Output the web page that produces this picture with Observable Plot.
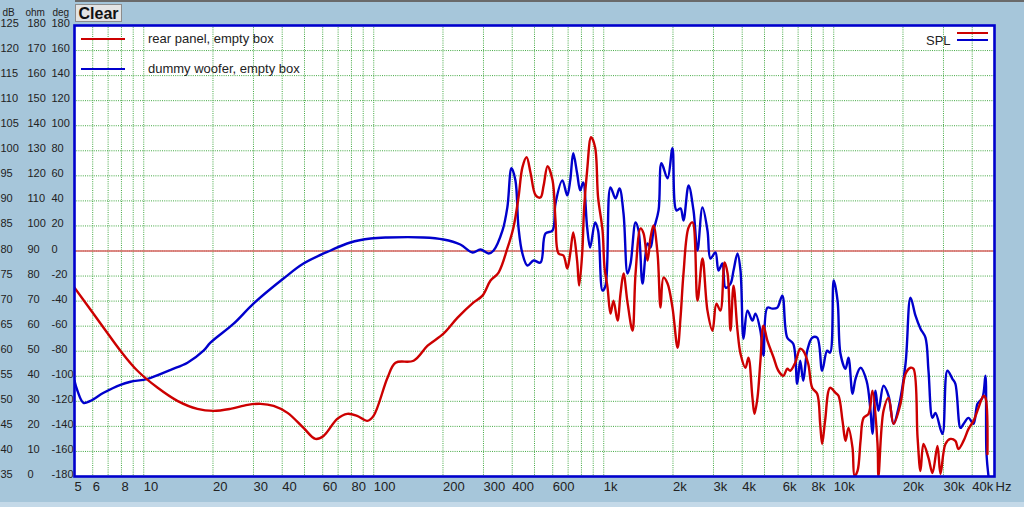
<!DOCTYPE html>
<html>
<head>
<meta charset="utf-8">
<script src="https://cdn.jsdelivr.net/npm/d3@7"></script>
<script src="https://cdn.jsdelivr.net/npm/@observablehq/plot@0.6"></script>
<style>
  body { margin: 0; background: #a6c6da; }
  #chart { position: relative; width: 1024px; height: 507px; overflow: hidden;
           font-family: "Liberation Sans", Arial, sans-serif; background: #a6c6da; }
  #chart svg { display: block; }
  .btn { position: absolute; left: 75px; top: 4px; width: 47px; height: 18px;
         background: #e4e4e4; border: 1px solid #8c8c8c; box-sizing: border-box;
         font: bold 16px "Liberation Sans", Arial, sans-serif; color: #111;
         line-height: 17px; text-align: center; }
  .topline { position: absolute; left: 75px; top: 0; width: 949px; height: 2px; background: #6a6a6a; }
  .bottomline { position: absolute; left: 0; bottom: 0; width: 1024px; height: 5px; background: #c4d9e8; }
  .sw { position: absolute; height: 2px; }
  .lg { position: absolute; font-size: 13px; color: #222; line-height: 14px; }
</style>
</head>
<body>
<div id="chart"></div>
<script>
// frequency response (Hz / dB)
const woofFreq = [5, 5.15, 5.47, 5.87, 6.69, 7.92, 8.76, 10.4, 13.1, 15.5, 18.2, 19.5, 24.6, 30, 40.5, 49.5, 64.9, 79.1, 97,
  114.8, 164.6, 201, 238, 269, 291, 316, 332, 363, 381, 397, 413, 426, 443, 466, 495, 531, 558, 599, 617, 661, 694, 715,
  737, 766, 790, 814, 847, 873, 917, 945, 988, 1018, 1070, 1125, 1171, 1219, 1269, 1308, 1375, 1417, 1475, 1550, 1598,
  1646, 1731, 1783, 1894, 1990, 2071, 2157, 2222, 2338, 2456, 2556, 2687, 2825, 2911, 3060, 3154, 3283, 3385, 3558,
  3667, 3816, 3932, 4052, 4217, 4432, 4567, 4800, 4946, 5147, 5409, 5685, 5975, 6280, 6666, 6937, 7150, 7370, 7670,
  8060, 8473, 8905, 9359, 9640, 10000, 10390, 10700, 11250, 11590, 12070, 12440, 13080, 13890, 14450, 14740, 15190,
  15650, 16460, 17310, 18200, 19130, 20520, 21570, 22670, 23830, 25050, 25820, 26870, 27690, 29680, 31200, 32800,
  33800, 35580, 36670, 38550, 40520, 42170, 44320, 45670, 46130, 47100];
const woofDb = [54.1, 52.1, 49.7, 50.1, 51.7, 53.3, 53.9, 54.5, 56.3, 57.7, 60.1, 61.7, 65.5, 69.5, 74.5, 77.5, 80.1, 81.7, 82.5,
  82.7, 82.7, 82.3, 81.3, 79.7, 80.3, 79.5, 80.1, 84.1, 88.7, 96.5, 94.1, 84.7, 79.5, 77.1, 78.1, 77.7, 83.5, 84.1, 89.5,
  94.1, 91.1, 94.1, 99.5, 95.5, 92.1, 93.7, 84.7, 80.7, 85.7, 84.1, 72.1, 73.1, 92.7, 90.5, 92.5, 87.5, 75.5, 77.5, 85.7,
  84.1, 73.5, 81.5, 80.7, 84.1, 88.1, 97.5, 94.5, 100.5, 88.1, 88.5, 86.1, 93.1, 88.1, 80.1, 88.7, 84.1, 78.5, 79.7,
  76.1, 77.5, 72.7, 73.5, 76.1, 79.5, 76.1, 62.5, 68.1, 66.1, 67.5, 64.1, 59.1, 68.7, 68.5, 68.7, 71.1, 62.7, 61.5,
  53.5, 58.1, 54.1, 60.1, 62.7, 62.7, 56.1, 60.1, 59.7, 74.1, 70.1, 59.5, 56.5, 58.7, 51.5, 54.5, 56.7, 54.1, 48.1,
  43.5, 52.1, 48.1, 53.1, 51.1, 45.5, 48.7, 57.5, 70.7, 67.1, 64.5, 62.7, 56.1, 46.7, 47.7, 43.5, 56.1, 54.5, 53.5,
  44.7, 45.5, 46.7, 45.5, 49.5, 50.7, 55.1, 39.7, 35];

const rearFreq = [5, 6.69, 7.92, 9.39, 11.5, 14, 17.1, 20.1, 23.8, 28.3, 32.2, 36.7, 42.2, 49.5, 55.8, 60.5, 69.4, 76.7, 84.7,
  93.6, 99.8, 114.8, 124.4, 149, 171.5, 201, 231.5, 271, 297, 322, 349, 381, 405, 426, 443, 462, 481, 506, 531, 548,
  570, 599, 617, 636, 668, 694, 715, 737, 766, 782, 806, 822, 847, 881, 917, 945, 988, 1008, 1039, 1070, 1103, 1148,
  1183, 1219, 1269, 1334, 1375, 1446, 1490, 1550, 1598, 1646, 1714, 1766, 1819, 1894, 1990, 2095, 2157, 2222, 2338,
  2432, 2556, 2687, 2825, 2970, 3090, 3215, 3352, 3455, 3558, 3667, 3816, 3932, 4132, 4258, 4432, 4522, 4660, 4800,
  4946, 5147, 5480, 5745, 6040, 6280, 6470, 6800, 7150, 7370, 7745, 8060, 8473, 8730, 8905, 9170, 9640, 10180, 10490,
  10920, 11250, 11590, 12070, 12320, 12690, 13080, 13480, 14170, 14740, 15500, 15650, 16460, 17310, 18200, 19510,
  20520, 21570, 22220, 23150, 23830, 24560, 25820, 26870, 28250, 29110, 30600, 32160, 33800, 34840, 36670, 38550,
  40520, 42600, 44770, 45670, 46600];
const rearDb = [72.7, 64.7, 60.1, 56.1, 52.7, 50.1, 48.5, 48.1, 48.5, 49.3, 49.5, 49.1, 47.7, 44.7, 42.5, 43.1, 46.5, 47.5, 47.1,
  46.1, 47.1, 54.7, 57.7, 58.1, 61.1, 63.5, 66.7, 69.7, 71.1, 74.1, 75.7, 80.5, 84.7, 90.7, 96.7, 98.7, 95.5, 91.1, 90.7,
  93.1, 96.9, 94.1, 86.1, 79.5, 79.1, 76.5, 79.5, 83.7, 78.1, 73.1, 79.5, 88.7, 96.1, 102.7, 100.7, 90.7, 84.1, 76.7,
  72.7, 67.5, 70.1, 66.1, 71.5, 75.5, 69.7, 64.1, 75.5, 84.5, 83.5, 78.1, 82.7, 85.1, 79.5, 68.7, 74.7, 73.5, 68.7,
  60.7, 66.7, 75.5, 84.7, 85.7, 70.1, 78.5, 68.1, 64.1, 69.5, 68.1, 77.7, 75.5, 64.1, 73.1, 64.1, 59.5, 56.7, 58.7,
  50.7, 47.5, 50.7, 58.1, 65.1, 62.1, 58.7, 56.1, 55.1, 56.5, 56.1, 57.7, 60.5, 60.1, 57.5, 52.7, 51.5, 45.5, 41.5,
  46.1, 52.7, 51.7, 51.1, 46.1, 42.1, 44.7, 40.7, 35.1, 36.1, 42.1, 46.7, 47.5, 52.1, 41.5, 35.1, 48.1, 50.7, 45.5,
  49.5, 55.5, 56.7, 56.5, 42.7, 36.1, 41.5, 38.7, 35.7, 41.1, 35.5, 41.5, 42.5, 42.1, 40.5, 42.1, 44.5, 46.1, 48.7,
  51.1, 50.7, 39.5];

// axes
const freqGrid = [5, 6, 7, 8, 9, 10, 20, 30, 40, 50, 60, 70, 80, 90, 100, 200, 300, 400, 500, 600, 700, 800, 900,
  1000, 2000, 3000, 4000, 5000, 6000, 7000, 8000, 9000, 10000, 20000, 30000, 40000, 50000];
const freqTicks = [5, 6, 8, 10, 20, 30, 40, 60, 80, 100, 200, 300, 400, 600, 1000, 2000, 3000, 4000, 6000, 8000,
  10000, 20000, 30000, 40000];
const freqLabels = ["5", "6", "8", "10", "20", "30", "40", "60", "80", "100", "200", "300", "400", "600", "1k", "2k",
  "3k", "4k", "6k", "8k", "10k", "20k", "30k", "40k"];
const dbTicks = [125, 120, 115, 110, 105, 100, 95, 90, 85, 80, 75, 70, 65, 60, 55, 50, 45, 40, 35];
const ohmTicks = [180, 170, 160, 150, 140, 130, 120, 110, 100, 90, 80, 70, 60, 50, 40, 30, 20, 10, 0];
const degTicks = [180, 160, 140, 120, 100, 80, 60, 40, 20, 0, -20, -40, -60, -80, -100, -120, -140, -160, -180];

const woofer = woofFreq.map((f, i) => ({f, db: woofDb[i]}));
const rear = rearFreq.map((f, i) => ({f, db: rearDb[i]}));
const yRows = dbTicks.map((db, i) => ({db, ohm: ohmTicks[i], deg: degTicks[i]}));

const grid = {stroke: "#2f9e2f", strokeDasharray: "1,1.2", strokeWidth: 1, strokeOpacity: 0.9};
const label = {fontSize: 11, fill: "#222", textAnchor: "start"};
const head = {fontSize: 10, fill: "#222", textAnchor: "start"};

const plot = Plot.plot({
  width: 1024,
  height: 507,
  marginLeft: 74,
  marginRight: 30,
  marginTop: 25,
  marginBottom: 31,
  x: {type: "log", domain: [5, 50000], axis: null},
  y: {domain: [35, 125], axis: null},
  style: {background: "#a6c6da", fontFamily: "'Liberation Sans', Arial, sans-serif", color: "#222"},
  marks: [
    Plot.frame({fill: "white"}),
    Plot.ruleX(freqGrid, grid),
    Plot.ruleY(dbTicks, grid),
    Plot.ruleY([80], {stroke: "#dc6464", strokeWidth: 1.5}),
    Plot.line(woofer, {x: "f", y: "db", stroke: "#0000cc", strokeWidth: 2.4, curve: "catmull-rom", clip: true}),
    Plot.line(rear, {x: "f", y: "db", stroke: "#cc0000", strokeWidth: 2.4, curve: "catmull-rom", clip: true}),
    Plot.frame({stroke: "#0000cc", strokeWidth: 2.6}),
    // frequency labels, left-aligned on their gridline
    Plot.text(freqTicks, {x: d => d, text: (d, i) => freqLabels[i], frameAnchor: "bottom", dy: 14,
      textAnchor: "start", fontSize: 13, fill: "#222"}),
    Plot.text(["Hz"], {frameAnchor: "bottom-right", dx: 1, dy: 14, textAnchor: "start", fontSize: 13, fill: "#222"}),
    // three level columns on the left
    Plot.text(yRows, {y: "db", text: d => String(d.db), frameAnchor: "left", dx: -74, dy: -2, ...label}),
    Plot.text(yRows, {y: "db", text: d => String(d.ohm), frameAnchor: "left", dx: -47, dy: -2, ...label}),
    Plot.text(yRows, {y: "db", text: d => String(d.deg), frameAnchor: "left", dx: -23, dy: -2, ...label}),
    Plot.text(["dB"], {frameAnchor: "top-left", dx: -72, dy: -17, ...head}),
    Plot.text(["ohm"], {frameAnchor: "top-left", dx: -49, dy: -17, ...head}),
    Plot.text(["deg"], {frameAnchor: "top-left", dx: -22, dy: -17, ...head})
  ]
});

const chart = document.getElementById("chart");
chart.appendChild(plot);

// window bits and legends laid over the svg
chart.insertAdjacentHTML("beforeend", `
  <div class="topline"></div>
  <div class="bottomline"></div>
  <div class="btn">Clear</div>
  <div class="sw" style="left:81px;top:38px;width:44px;background:#cc0000"></div>
  <div class="lg" style="left:148px;top:32px">rear panel, empty box</div>
  <div class="sw" style="left:81px;top:68px;width:44px;background:#0000cc"></div>
  <div class="lg" style="left:148px;top:62px">dummy woofer, empty box</div>
  <div class="lg" style="left:926px;top:34px">SPL</div>
  <div class="sw" style="left:957px;top:32px;width:31px;background:#cc0000"></div>
  <div class="sw" style="left:957px;top:39px;width:31px;background:#0000cc"></div>
`);
</script>
</body>
</html>
